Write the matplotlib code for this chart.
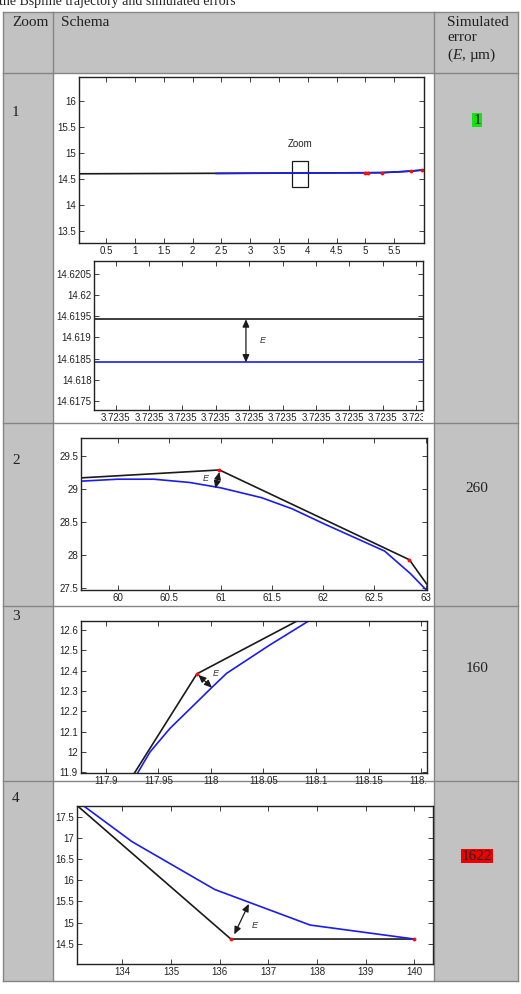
"""Bspline trajectory zoom table: schema panels and simulated errors."""
import numpy as np
import matplotlib
matplotlib.use('Agg')
import matplotlib.pyplot as plt
from matplotlib.patches import Rectangle
from matplotlib.ticker import FormatStrFormatter
from matplotlib.transforms import Bbox, TransformedBbox

W, H = 521, 994

plt.rcParams['mathtext.fontset'] = 'custom'
plt.rcParams['mathtext.it'] = 'Liberation Serif:italic'
plt.rcParams['mathtext.rm'] = 'Liberation Serif'

# table text
CAPTION = 'the Bspline trajectory and simulated errors'
HEADERS = ['Zoom', 'Schema', 'Simulated\nerror\n($\\mathit{E}$, µm)']
ZOOM_LABELS = ['1', '2', '3', '4']
ERRORS = [1, 260, 160, 1622]
ERROR_BG = ['#16e016', None, None, '#f00000']

# row 1, overview
OV_BLACK_X = [0.03, 5.0, 5.05, 5.28, 5.79, 5.98]
OV_BLACK_Y = [14.60, 14.62, 14.62, 14.62, 14.65, 14.67]
OV_BLUE_X = [2.41, 3.8, 5.0, 5.3, 5.6, 5.8, 6.0]
OV_BLUE_Y = [14.605, 14.615, 14.62, 14.625, 14.64, 14.655, 14.675]
OV_RED_X = [5.0, 5.05, 5.28, 5.79, 5.98]
OV_RED_Y = [14.62, 14.62, 14.62, 14.65, 14.67]
ZOOM_BOX = [3.73, 14.355, 3.996, 14.84]  # x0, y0, x1, y1

# row 1, zoomed detail
DET_X0 = 3.7235
DET_STEP = 1e-7
DET_BLACK_Y = 14.61943
DET_BLUE_Y = 14.61841

# row 2
R2_BLACK_X = [59.64, 60.99, 62.84, 63.01]
R2_BLACK_Y = [29.17, 29.29, 27.93, 27.56]
R2_BLUE_X = [59.64, 60.0, 60.35, 60.7, 61.0, 61.4, 61.7, 62.0, 62.3, 62.6, 62.85, 63.0]
R2_BLUE_Y = [29.12, 29.15, 29.15, 29.10, 29.02, 28.87, 28.70, 28.48, 28.27,
             28.06, 27.72, 27.48]
R2_RED_X = [60.99, 62.84]
R2_RED_Y = [29.29, 27.93]

# row 3
R3_BLACK_X = [117.927, 117.9866, 118.082]
R3_BLACK_Y = [11.895, 12.384, 12.644]
R3_BLUE_X = [117.930, 117.942, 117.961, 117.987, 118.001, 118.015, 118.056, 118.093]
R3_BLUE_Y = [11.895, 12.0, 12.116, 12.247, 12.318, 12.387, 12.526, 12.644]
R3_RED_X = [117.9866]
R3_RED_Y = [12.384]

# row 4
R4_BLACK_X = [133.075, 136.23, 140.0]
R4_BLACK_Y = [17.76, 14.61, 14.61]
R4_BLUE_X = [133.2, 134.2, 135.9, 137.86, 140.0]
R4_BLUE_Y = [17.76, 16.91, 15.78, 14.94, 14.61]
R4_RED_X = [136.23, 140.0]
R4_RED_Y = [14.61, 14.61]

GRAY = '#c2c2c2'
EDGE = '#858585'
BLACK = '#1a1a1a'
BLUE = '#1c1cec'
RED = '#ee1111'
SERIF = 'Liberation Serif'
SANS = 'Liberation Sans'


def add_box(fig, left, top, right, bottom):
    """Axes placed by pixel box."""
    return fig.add_axes([left / W, 1 - bottom / H, (right - left) / W,
                         (bottom - top) / H])


def style(ax, xticks, yticks, fmt='%g'):
    ax.set_xticks(xticks)
    ax.set_yticks(yticks)
    ax.xaxis.set_major_formatter(FormatStrFormatter(fmt))
    ax.yaxis.set_major_formatter(FormatStrFormatter('%g'))
    ax.tick_params(direction='in', top=True, right=True, length=3.5,
                   width=0.6, labelsize=7, pad=2, colors='#222222')
    for lbl in ax.get_xticklabels() + ax.get_yticklabels():
        lbl.set_family(SANS)
    for sp in ax.spines.values():
        sp.set_linewidth(1.0)
        sp.set_color('#222222')


def clip_xlabels(ax):
    """Cut x tick labels at the right edge of the axes."""
    box = TransformedBbox(Bbox([[-0.2, -1], [1, 1]]), ax.transAxes)
    for lbl in ax.get_xticklabels():
        lbl.set_clip_box(box)
        lbl.set_clip_on(True)


def error_arrow(ax, xy0, xy1, txt_xy):
    ax.annotate('', xy=xy1, xytext=xy0,
                arrowprops=dict(arrowstyle='<|-|>,head_length=0.45,head_width=0.2',
                                color=BLACK, lw=0.9, shrinkA=0, shrinkB=0))
    ax.text(*txt_xy, 'E', fontsize=6.5, style='italic', family=SANS,
            color='#333333', ha='center', va='center')


fig = plt.figure(figsize=(W / 100, H / 100), dpi=100)
bg = fig.add_axes([0, 0, 1, 1])
bg.set_xlim(0, W)
bg.set_ylim(H, 0)
bg.axis('off')

# table grid
cols = [3, 53, 434, 518]
rows = [12, 73, 423, 606, 781, 981]
bg.add_patch(Rectangle((cols[0], rows[0]), cols[-1] - cols[0], rows[-1] - rows[0],
                       facecolor=GRAY, edgecolor='none'))
for r0, r1 in zip(rows[1:-1], rows[2:]):
    bg.add_patch(Rectangle((cols[1], r0), cols[2] - cols[1], r1 - r0,
                           facecolor='white', edgecolor='none'))
for y in rows:
    bg.plot([cols[0], cols[-1]], [y, y], color=EDGE, lw=1.0)
for x in cols:
    bg.plot([x, x], [rows[0], rows[-1]], color=EDGE, lw=1.0)

bg.text(-1, 4.5, CAPTION, family=SERIF, fontsize=10, va='baseline', color='#222222')
bg.text(12, 16, HEADERS[0], family=SERIF, fontsize=11, va='top', color='#222222')
bg.text(61, 16, HEADERS[1], family=SERIF, fontsize=11, va='top', color='#222222')
bg.text(447, 16, HEADERS[2], family=SERIF, fontsize=11, va='top', color='#222222',
        linespacing=1.2)

label_y = [112, 460, 616, 799]
value_y = [120, 488, 669, 856]
for lab, ly, val, vy, bgc in zip(ZOOM_LABELS, label_y, ERRORS, value_y, ERROR_BG):
    bg.text(12, ly, lab, family=SERIF, fontsize=11, va='center', color='#222222')
    box = dict(boxstyle='square,pad=0.05', facecolor=bgc, edgecolor='none') if bgc else None
    bg.text(477, vy, str(val), family=SERIF, fontsize=11, va='center', ha='center',
            color='#222222', bbox=box)

# row 1 overview
ax = add_box(fig, 79, 77, 424, 243)
ax.plot(OV_BLACK_X, OV_BLACK_Y, color=BLACK, lw=1.2)
ax.plot(OV_BLUE_X, OV_BLUE_Y, color=BLUE, lw=1.2)
ax.plot(OV_RED_X, OV_RED_Y, 'o', color=RED, ms=2.8, mec='none')
x0, y0, x1, y1 = ZOOM_BOX
ax.add_patch(Rectangle((x0, y0), x1 - x0, y1 - y0, facecolor='none',
                       edgecolor=BLACK, lw=0.9))
ax.text((x0 + x1) / 2, 15.17, 'Zoom', fontsize=7, family=SANS, ha='center',
        va='center', color='#222222')
ax.set_xlim(0.03, 6.015)
ax.set_ylim(13.27, 16.46)
style(ax, np.arange(0.5, 5.51, 0.5), np.arange(13.5, 16.01, 0.5))

# row 1 detail
ax = add_box(fig, 94.3, 260.7, 423.3, 410)
ax.axhline(DET_BLACK_Y, color=BLACK, lw=1.2)
ax.axhline(DET_BLUE_Y, color=BLUE, lw=1.2)
ax.set_xlim(DET_X0 - 0.64 * DET_STEP, DET_X0 + 9.21 * DET_STEP)
ax.set_ylim(14.617287, 14.620814)
style(ax, DET_X0 + np.arange(10) * DET_STEP, np.round(np.arange(14.6175, 14.62051, 0.0005), 4),
      fmt='%.4f')
clip_xlabels(ax)
xa = DET_X0 + 3.9 * DET_STEP
error_arrow(ax, (xa, DET_BLUE_Y), (xa, DET_BLACK_Y),
            (DET_X0 + 4.4 * DET_STEP, (DET_BLACK_Y + DET_BLUE_Y) / 2))

# row 2
ax = add_box(fig, 81, 438.3, 426.7, 590)
ax.plot(R2_BLACK_X, R2_BLACK_Y, color=BLACK, lw=1.2)
ax.plot(R2_BLUE_X, R2_BLUE_Y, color=BLUE, lw=1.2)
ax.plot(R2_RED_X, R2_RED_Y, 'o', color=RED, ms=2.8, mec='none')
ax.set_xlim(59.64, 63.01)
ax.set_ylim(27.47, 29.77)
style(ax, np.arange(60, 63.01, 0.5), np.arange(27.5, 29.51, 0.5))
error_arrow(ax, (60.95, 29.01), (60.99, 29.26), (60.86, 29.16))

# row 3
ax = add_box(fig, 80.7, 621, 426.7, 773.3)
ax.plot(R3_BLACK_X, R3_BLACK_Y, color=BLACK, lw=1.2)
ax.plot(R3_BLUE_X, R3_BLUE_Y, color=BLUE, lw=1.2)
ax.plot(R3_RED_X, R3_RED_Y, 'o', color=RED, ms=2.8, mec='none')
ax.set_xlim(117.876, 118.2054)
ax.set_ylim(11.895, 12.644)
style(ax, np.round(np.arange(117.9, 118.201, 0.05), 2), np.round(np.arange(11.9, 12.61, 0.1), 1))
clip_xlabels(ax)
error_arrow(ax, (118.001, 12.316), (117.988, 12.379), (118.005, 12.388))

# row 4
ax = add_box(fig, 77.3, 805.7, 433.3, 964)
ax.plot(R4_BLACK_X, R4_BLACK_Y, color=BLACK, lw=1.2)
ax.plot(R4_BLUE_X, R4_BLUE_Y, color=BLUE, lw=1.2)
ax.plot(R4_RED_X, R4_RED_Y, 'o', color=RED, ms=2.8, mec='none')
ax.set_xlim(133.075, 140.39)
ax.set_ylim(14.02, 17.76)
style(ax, np.arange(134, 140.1, 1), np.arange(14.5, 17.51, 0.5))
error_arrow(ax, (136.3, 14.72), (136.6, 15.44), (136.72, 14.94))

fig.savefig('out.png', dpi=100)
